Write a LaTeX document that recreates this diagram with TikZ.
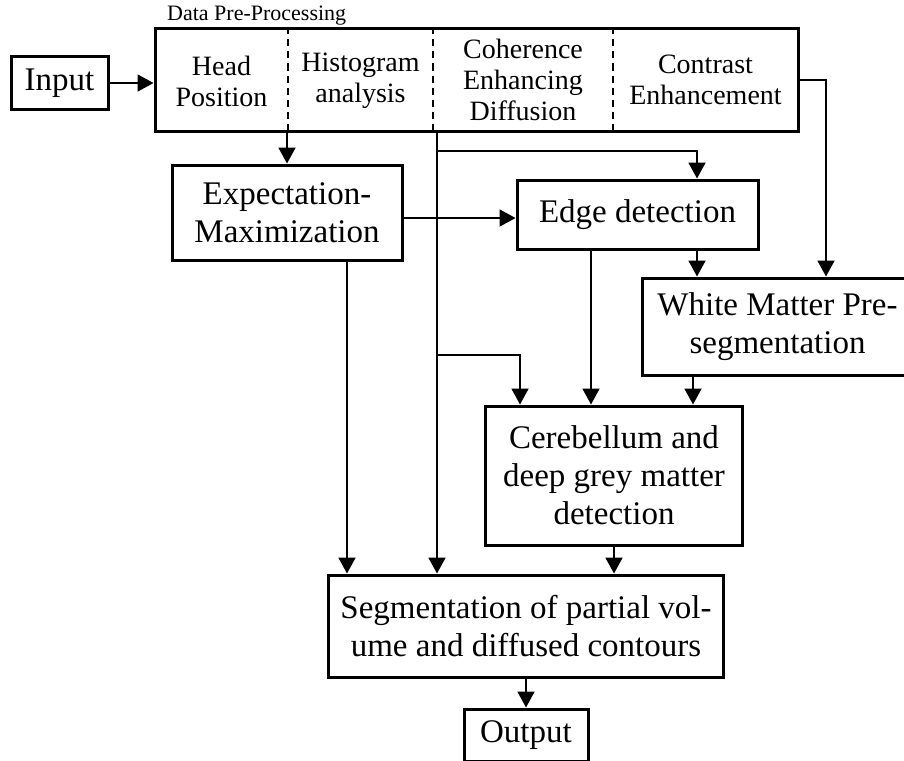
\documentclass[tikz,border=0pt]{standalone}
\usepackage{fontspec}
\setmainfont{Liberation Serif}
\usetikzlibrary{arrows.meta}

\begin{document}
\begin{tikzpicture}[
    x=1pt, y=-1pt,
    box/.style={draw, line width=3pt, inner sep=0pt, align=center, font=\fontsize{33}{38}\selectfont},
    sub/.style={inner sep=0pt, align=center, font=\fontsize{28}{31}\selectfont},
    div/.style={dashed, dash pattern=on 7pt off 5pt, line width=1.5pt},
    arr/.style={-{Triangle[length=16pt, width=17pt]}, line width=1.9pt},
]
  \useasboundingbox (0,0) rectangle (904,760);

  % pre-processing block with its four steps
  \node [box, minimum width=97pt,  minimum height=52pt]  (input) at (59.5,83)   {Input};
  \node [box, minimum width=643pt, minimum height=102pt] (pre)   at (476.5,80)  {};
  \node [anchor=base west, inner sep=0pt, font=\fontsize{22}{24}\selectfont] (prelabel) at (167,21) {Data Pre-Processing};
  \node [sub] (head) at (221.5,81) {Head\\Position};
  \node [sub] (hist) at (360.5,81) {Histogram\\analysis};
  \node [sub] (coh)  at (523,80)   {Coherence\\Enhancing\\Diffusion};
  \node [sub] (con)  at (705.5,80) {Contrast\\Enhancement};
  \draw [div] (288,0 |- pre.north) -- (288,0 |- pre.south);
  \draw [div] (433,0 |- pre.north) -- (433,0 |- pre.south);
  \draw [div] (613,0 |- pre.north) -- (613,0 |- pre.south);

  % processing steps
  \node [box, minimum width=230pt, minimum height=95pt]  (em)   at (287,212.5) {Expectation-\\Maximization};
  \node [box, minimum width=241pt, minimum height=69pt]  (edge) at (637.5,214.5) {Edge detection};
  \node [box, minimum width=271pt, minimum height=97pt]  (wm)   at (777.5,326.5) {White Matter Pre-\\segmentation};
  \node [box, minimum width=257pt, minimum height=139pt] (cer)  at (614,475.5) {Cerebellum and\\deep grey matter\\detection};
  \node [box, minimum width=395pt, minimum height=102pt] (seg)  at (526,626)   {Segmentation of partial vol-\\ume and diffused contours};
  \node [box, minimum width=124pt, minimum height=52pt]  (out)  at (526,735)   {Output};

  % connectors
  \coordinate (split) at (437,0 |- pre.south);
  \coordinate (t1) at (437,151);
  \coordinate (t2) at (437,355);

  \draw [arr] (input) -- (pre.west |- input);
  \draw [arr] (pre.south -| em.north) -- (em.north);
  \draw [arr] (split) -- (split |- seg.north);
  \draw [arr] (t1) -| (697,0 |- edge.north);
  \draw [arr] (t2) -| (520,0 |- cer.north);
  \draw [arr] (em.east |- 0,218) -- (edge.west |- 0,218);
  \draw [arr] (697,0 |- edge.south) -- (697,0 |- wm.north);
  \draw [arr] (591,0 |- edge.south) -- (591,0 |- cer.north);
  \draw [arr] (pre.east) -| (826,0 |- wm.north);
  \draw [arr] (693,0 |- wm.south) -- (693,0 |- cer.north);
  \draw [arr] (347,0 |- em.south) -- (347,0 |- seg.north);
  \draw [arr] (cer.south) -- (cer.south |- seg.north);
  \draw [arr] (seg.south -| out.north) -- (out.north);
\end{tikzpicture}
\end{document}
